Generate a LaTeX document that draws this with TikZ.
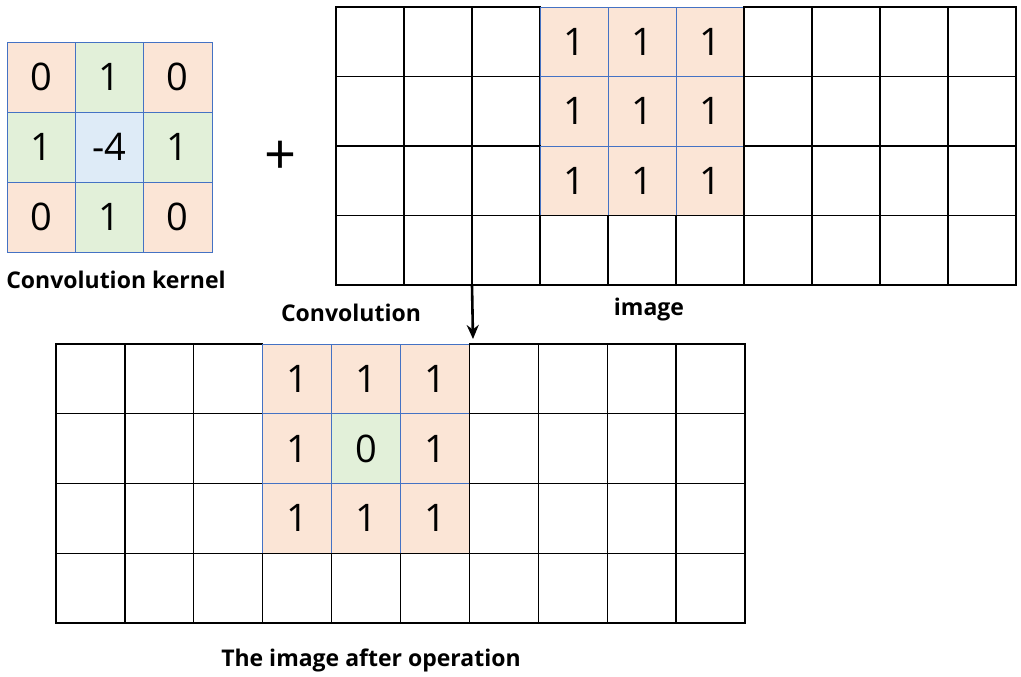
\documentclass[tikz,border=0pt]{standalone}
\usepackage{fontspec}
\setmainfont{Open Sans}
\usetikzlibrary{arrows.meta}
\definecolor{peach}{HTML}{FBE5D6}
\definecolor{lgreen}{HTML}{E2F0D9}
\definecolor{lblue}{HTML}{DEEBF7}
\definecolor{cellblue}{HTML}{4472C4}
\begin{document}
\begin{tikzpicture}[x=1pt,y=-1pt]
\tikzset{
  base/.style={anchor=north west, inner sep=0pt, outer sep=0pt, font=\fontsize{38}{38}\selectfont},
  plain/.style={base, draw=black, line width=1.3pt},
  hl/.style={base, draw=cellblue, line width=0.8pt, fill=#1},
  lab/.style={font=\bfseries\fontsize{23}{27}\selectfont},
  kcell/.style={minimum width=68.3pt, minimum height=70pt},
  acell/.style={minimum width=68pt, minimum height=69.5pt},
  bcell/.style={minimum width=68.9pt, minimum height=69.75pt}
}
\useasboundingbox (0,0) rectangle (1021,677);
% convolution kernel
\foreach \r/\c/\v/\col in {1/1/0/peach,1/2/1/lgreen,1/3/0/peach,
                           2/1/1/lgreen,2/2/-4/lblue,2/3/1/lgreen,
                           3/1/0/peach,3/2/1/lgreen,3/3/0/peach}
  \node[hl=\col, kcell] (k-\r-\c) at ({7+(\c-1)*68.33},{42+(\r-1)*70}) {\v};
% input image
\foreach \r in {1,...,4}{
  \foreach \c in {1,...,10}{
    \pgfmathtruncatemacro\h{and(\r<4, and(\c>3, \c<7))}
    \ifnum\h=1
      \node[hl=peach, acell] (a-\r-\c) at ({336+(\c-1)*68},{7+(\r-1)*69.5}) {1};
    \else
      \node[plain, acell] (a-\r-\c) at ({336+(\c-1)*68},{7+(\r-1)*69.5}) {};
    \fi
  }
}
% output image
\foreach \r in {1,...,4}{
  \foreach \c in {1,...,10}{
    \pgfmathtruncatemacro\h{and(\r<4, and(\c>3, \c<7))}
    \pgfmathtruncatemacro\m{and(\r==2, \c==5)}
    \ifnum\m=1
      \node[hl=lgreen, bcell] (b-\r-\c) at ({56+(\c-1)*68.9},{344+(\r-1)*69.75}) {0};
    \else\ifnum\h=1
      \node[hl=peach, bcell] (b-\r-\c) at ({56+(\c-1)*68.9},{344+(\r-1)*69.75}) {1};
    \else
      \node[plain, bcell] (b-\r-\c) at ({56+(\c-1)*68.9},{344+(\r-1)*69.75}) {};
    \fi\fi
  }
}
% labels
\node[lab] (klabel) at (116,280) {Convolution kernel};
\node[lab] (clabel) at (351,313) {Convolution};
\node[lab] (ilabel) at (649,310) {image};
\node[lab] (blabel) at (371,660) {The image after operation};
\node[font=\fontsize{56}{56}\selectfont, inner sep=0pt] (plus) at (281,158) {+};
% arrow
\coordinate (aend) at (473,339);
\draw[-{Stealth[length=14pt,width=12pt]}, line width=2.6pt] (a-4-3.south west) -- (aend);
\end{tikzpicture}
\end{document}
